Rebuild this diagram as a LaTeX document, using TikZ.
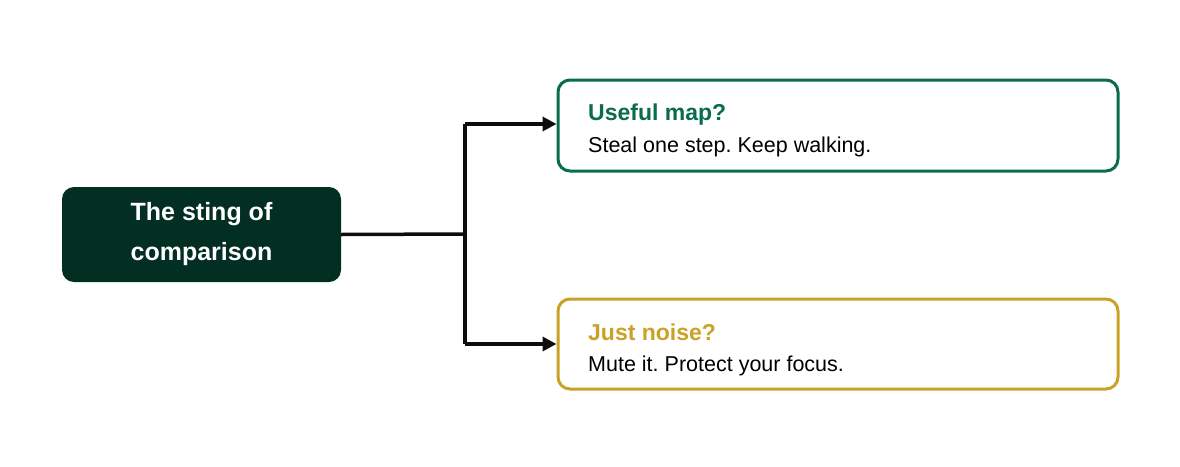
\documentclass[tikz,border=0pt]{standalone}
\usepackage{fontspec}
\setmainfont{Liberation Sans}
\usetikzlibrary{arrows.meta}
\definecolor{dk}{HTML}{032E22}
\definecolor{gr}{HTML}{0A6B4F}
\definecolor{gd}{HTML}{C9A227}
\frenchspacing
\begin{document}
\begin{tikzpicture}[x=1pt,y=-1pt,
  opt/.style={draw=#1,line width=3pt,rounded corners=12pt,fill=white},
  conn/.style={line width=3.5pt,draw=black!95},
  arr/.style={conn,-{Triangle[length=14pt,width=14pt]}}]
\useasboundingbox (0,0) rectangle (1180,466);
\node[fill=dk,rounded corners=12pt,minimum width=279pt,minimum height=95pt,text=white,font=\fontsize{25}{40}\selectfont\bfseries,align=center] (root) at (201.5,234.5) {The sting of\\comparison};
\node[opt=gr,minimum width=560pt,minimum height=91pt] (a) at (838,125.5) {};
\node[opt=gd,minimum width=560pt,minimum height=90pt] (b) at (838,344) {};
\node[anchor=base west,text=gr,font=\fontsize{23}{26}\selectfont\bfseries,inner sep=0] (at) at (588,120) {Useful map?};
\node[anchor=base west,font=\fontsize{21.5}{26}\selectfont,inner sep=0] (ab) at (588,152) {Steal one step. Keep walking.};
\node[anchor=base west,text=gd,font=\fontsize{23}{26}\selectfont\bfseries,inner sep=0] (bt) at (588,340) {Just noise?};
\node[anchor=base west,font=\fontsize{21.5}{26}\selectfont,inner sep=0] (bb) at (588,371) {Mute it. Protect your focus.};
\coordinate (j) at (465,234);
\draw[conn] (root.east) -- (j);
\draw[conn] (465,124) -- (465,344);
\draw[arr] (465,124) -- (a.west |- 0,124);
\draw[arr] (465,344) -- (b.west |- 0,344);
\end{tikzpicture}
\end{document}
